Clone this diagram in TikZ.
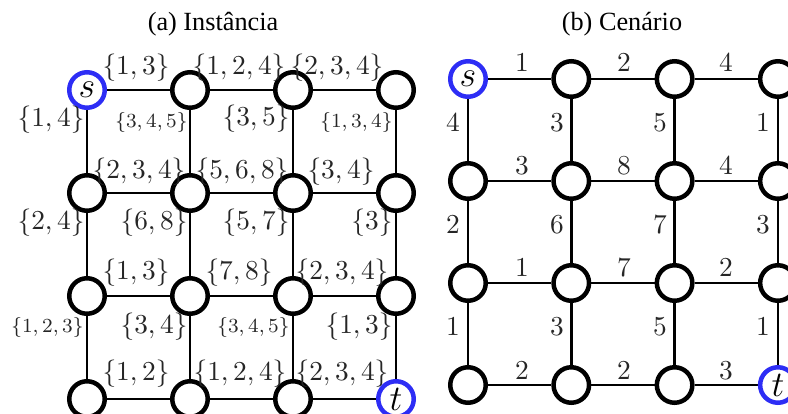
\documentclass[tikz,border=0pt]{standalone}
\usepackage[no-math]{fontspec}
\newfontfamily\titlefont{Liberation Serif}
\usetikzlibrary{backgrounds}
\definecolor{sblue}{RGB}{45,45,245}
\begin{document}
\begin{tikzpicture}[x=0.4pt,y=-0.4pt,
  vtx/.style={circle,draw=black,line width=1.8pt,fill=white,minimum size=14.2pt,inner sep=0pt,font=\fontsize{14.4}{16}\selectfont},
  term/.style={vtx,draw=sblue},
  edge/.style={line width=1pt,black},
  lab/.style={font=\fontsize{10.5}{12}\selectfont,inner sep=0pt,text=black!85},
  slab/.style={font=\fontsize{8}{10}\selectfont,inner sep=0pt,text=black!85},
  ttl/.style={font=\titlefont\fontsize{10.5}{12}\selectfont,inner sep=0pt}]
\useasboundingbox (0,0) rectangle (788,414);
\clip (0,0) rectangle (788,414);
% titles
\node[ttl] (ta) at (213,24) {(a) Instância};
\node[ttl] (tb) at (622,24) {(b) Cenário};
% left grid nodes
\foreach \i in {0,...,3}{\foreach \j in {0,...,3}{
  \ifnum\i\j=0
    \node[term] (a\i\j) at (87+103*\i,90+103*\j) {$s$};
  \else\ifnum\i\j=33
    \node[term] (a\i\j) at (87+103*\i,90+103*\j) {$t$};
  \else
    \node[vtx] (a\i\j) at (87+103*\i,90+103*\j) {};
  \fi\fi
}}
% right grid nodes
\foreach \i in {0,...,3}{\foreach \j in {0,...,3}{
  \ifnum\i\j=0
    \node[term] (b\i\j) at (468+103.3*\i,79+102*\j) {$s$};
  \else\ifnum\i\j=33
    \node[term] (b\i\j) at (468+103.3*\i,79+102*\j) {$t$};
  \else
    \node[vtx] (b\i\j) at (468+103.3*\i,79+102*\j) {};
  \fi\fi
}}
% edges
\begin{pgfonlayer}{background}
\foreach \i/\k in {0/1,1/2,2/3}{\foreach \j in {0,...,3}{
  \draw[edge] (a\i\j) -- (a\k\j);
  \draw[edge] (a\j\i) -- (a\j\k);
  \draw[edge] (b\i\j) -- (b\k\j);
  \draw[edge] (b\j\i) -- (b\j\k);
}}
\end{pgfonlayer}
% left horizontal labels
\foreach \x/\y/\t [count=\n] in {
  136/68/{$\{1,3\}$}, 239/68/{$\{1,2,4\}$}, 337/68/{$\{2,3,4\}$},
  139/172/{$\{2,3,4\}$}, 242/172/{$\{5,6,8\}$}, 341/172/{$\{3,4\}$},
  136/273/{$\{1,3\}$}, 239/273/{$\{7,8\}$}, 342/273/{$\{2,3,4\}$},
  136/374/{$\{1,2\}$}, 240/374/{$\{1,2,4\}$}, 342/374/{$\{2,3,4\}$}}
  \node[lab] (lh\n) at (\x,\y) {\t};
% left vertical labels (normal size)
\foreach \x/\y/\t [count=\n] in {
  85/120/{$\{1,4\}$}, 290/119/{$\{3,5\}$},
  85/223/{$\{2,4\}$}, 188/223/{$\{6,8\}$}, 290/223/{$\{5,7\}$}, 393/223/{$\{3\}$},
  188/327/{$\{3,4\}$}, 393/327/{$\{1,3\}$}}
  \node[lab,anchor=east] (lv\n) at (\x,\y) {\t};
% left vertical labels (small)
\foreach \x/\y/\t [count=\n] in {
  188/122/{$\{3,4,5\}$}, 393/122/{$\{1,3,4\}$},
  84/327/{$\{1,2,3\}$}, 290/327/{$\{3,4,5\}$}}
  \node[slab,anchor=east] (ls\n) at (\x,\y) {\t};
% right horizontal labels
\foreach \x/\y/\t [count=\n] in {
  522/63/1, 624/63/2, 726/63/4,
  522/166/3, 624/166/8, 726/166/4,
  522/268/1, 624/268/7, 726/268/2,
  522/371/2, 624/371/2, 726/371/3}
  \node[lab] (rh\n) at (\x,\y) {$\t$};
% right vertical labels
\foreach \x/\y/\t [count=\n] in {
  453/123/4, 557/123/3, 660/123/5, 763/123/1,
  453/225/2, 557/225/6, 660/225/7, 763/225/3,
  453/327/1, 557/327/3, 660/327/5, 763/327/1}
  \node[lab] (rv\n) at (\x,\y) {$\t$};
\end{tikzpicture}
\end{document}
